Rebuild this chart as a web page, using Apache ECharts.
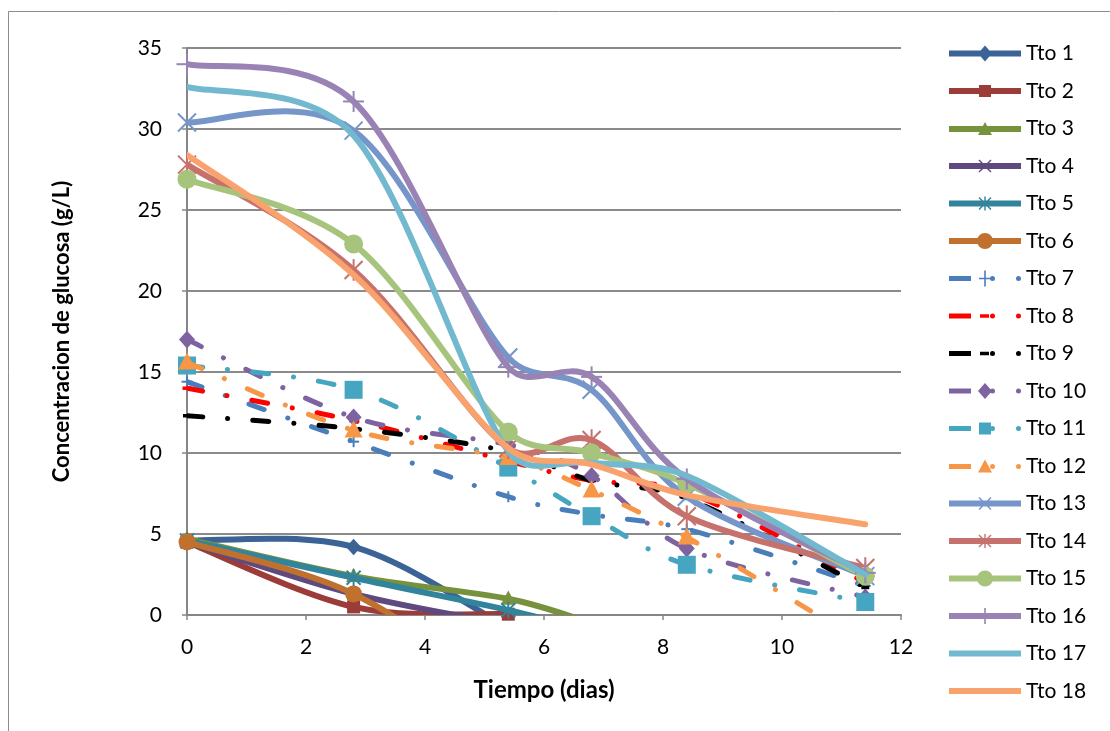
<!DOCTYPE html>
<html>
<head>
<meta charset="utf-8">
<script src="https://cdn.jsdelivr.net/npm/echarts@6/dist/echarts.min.js"></script>
<style>
html, body { margin: 0; padding: 0; background: #ffffff; }
#chart { width: 1110px; height: 731px; }
</style>
</head>
<body>
<div id="chart"></div>
<script>
// Sampling days (x values shared by every treatment)
const days = [0, 2.8, 5.4, 6.8, 8.4, 11.4];

// Axis ticks
const xTicks = [0, 2, 4, 6, 8, 10, 12];
const yTicks = [0, 5, 10, 15, 20, 25, 30, 35];

// Series names
const names = ['Tto 1', 'Tto 2', 'Tto 3', 'Tto 4', 'Tto 5', 'Tto 6',
  'Tto 7', 'Tto 8', 'Tto 9', 'Tto 10', 'Tto 11', 'Tto 12',
  'Tto 13', 'Tto 14', 'Tto 15', 'Tto 16', 'Tto 17', 'Tto 18'];

// Glucose concentration (g/L) per treatment, one value per sampling day
const tto1 = [4.6, 4.2, -0.8];
const tto2 = [4.5, 0.5, 0.05];
const tto3 = [4.7, 2.4, 1.0, -0.5];
const tto4 = [4.5, 1.3, -0.6];
const tto5 = [4.6, 2.3, 0.3, -1.0];
const tto6 = [4.5, 1.3, -5.0];
const tto7 = [14.4, 10.7, 7.3, 6.2, 5.3, 1.8];
const tto8 = [14.0, 12.0, 9.5, 8.3, 7.6, 2.0];
const tto9 = [12.3, 11.5, 10.1, 8.3, 7.2, 1.7];
const tto10 = [17.0, 12.2, 10.5, 8.6, 4.1, 1.1];
const tto11 = [15.4, 13.9, 9.1, 6.1, 3.1, 0.8];
const tto12 = [15.6, 11.4, 9.7, 7.7, 4.8, -1.8];
const tto13 = [30.4, 29.9, 15.9, 13.9, 7.3, 2.4];
const tto14 = [27.8, 21.3, 10.3, 10.8, 6.1, 2.9];
const tto15 = [26.9, 22.9, 11.3, 10.0, 8.1, 2.4];
const tto16 = [34.0, 31.7, 15.3, 14.7, 8.4, 2.6];
const tto17 = [32.6, 29.6, 10.1, 9.4, 8.6, 2.5];
const tto18 = [28.4, 21.0, 10.3, 9.3, 7.4, 5.6];

const values = [tto1, tto2, tto3, tto4, tto5, tto6, tto7, tto8, tto9,
  tto10, tto11, tto12, tto13, tto14, tto15, tto16, tto17, tto18];

// Per-series look: colour, dashed or solid, marker kind and size
const looks = [
  { color: '#3B6396', dash: false, marker: 'diamond', size: 15 },
  { color: '#9B3C38', dash: false, marker: 'square', size: 13 },
  { color: '#76923C', dash: false, marker: 'triangle', size: 15 },
  { color: '#5E4A7E', dash: false, marker: 'x', size: 12 },
  { color: '#31849B', dash: false, marker: 'star', size: 14 },
  { color: '#C0712E', dash: false, marker: 'circle', size: 17 },
  { color: '#4A7EBB', dash: true, marker: 'plus', size: 11 },
  { color: '#FF0000', dash: true, marker: 'dash', size: 9 },
  { color: '#000000', dash: true, marker: 'dash', size: 8 },
  { color: '#7F62A0', dash: true, marker: 'diamond', size: 16 },
  { color: '#46A5C0', dash: true, marker: 'square', size: 18 },
  { color: '#F79646', dash: true, marker: 'triangle', size: 18 },
  { color: '#7696C9', dash: false, marker: 'x', size: 18 },
  { color: '#C7716D', dash: false, marker: 'star', size: 18 },
  { color: '#A7C47C', dash: false, marker: 'circle', size: 19 },
  { color: '#9983B5', dash: false, marker: 'plus', size: 21 },
  { color: '#72B9D0', dash: false, marker: 'none', size: 0 },
  { color: '#F8A36E', dash: false, marker: 'none', size: 0 }
];

const FONT = 'Lato, "Open Sans", sans-serif';
const SOLID_W = 6;
const DASH_W = 5;
const DASH_PATTERN = [16, 25, 0.1, 25];
const TENSION = 1 / 6;     // control-point reach along the neighbour chord
const MAX_REACH = 0.4;     // reach limited to this share of the segment length

function f(n) { return n.toFixed(2); }

// Control-point offset for point b (neighbours a, c), limited by segment length
function reach(a, c, segLen) {
  let vx = (c[0] - a[0]) * TENSION;
  let vy = (c[1] - a[1]) * TENSION;
  const len = Math.sqrt(vx * vx + vy * vy);
  const lim = segLen * MAX_REACH;
  if (len > lim && len > 0) { vx *= lim / len; vy *= lim / len; }
  return [vx, vy];
}

// Smooth cubic curve through the pixel points
function curvePath(pts) {
  let d = 'M' + f(pts[0][0]) + ',' + f(pts[0][1]);
  for (let i = 0; i < pts.length - 1; i++) {
    const p0 = pts[i - 1] || pts[i];
    const p1 = pts[i];
    const p2 = pts[i + 1];
    const p3 = pts[i + 2] || pts[i + 1];
    const seg = Math.hypot(p2[0] - p1[0], p2[1] - p1[1]);
    const r1 = reach(p0, p2, seg);
    const r2 = reach(p1, p3, seg);
    d += 'C' + f(p1[0] + r1[0]) + ',' + f(p1[1] + r1[1]) + ',' +
      f(p2[0] - r2[0]) + ',' + f(p2[1] - r2[1]) + ',' + f(p2[0]) + ',' + f(p2[1]);
  }
  return d;
}

// Marker shapes drawn at a pixel position
function markerEls(kind, cx, cy, s, color) {
  const thin = { stroke: color, lineWidth: 2, fill: null };
  const h = s / 2;
  switch (kind) {
    case 'diamond':
      return [{ type: 'polygon', shape: { points: [[cx, cy - h * 1.1], [cx + h, cy], [cx, cy + h * 1.1], [cx - h, cy]] }, style: { fill: color } }];
    case 'square':
      return [{ type: 'rect', shape: { x: cx - h, y: cy - h, width: s, height: s }, style: { fill: color } }];
    case 'triangle':
      return [{ type: 'polygon', shape: { points: [[cx, cy - h * 1.1], [cx + h, cy + h * 0.8], [cx - h, cy + h * 0.8]] }, style: { fill: color } }];
    case 'circle':
      return [{ type: 'circle', shape: { cx: cx, cy: cy, r: h }, style: { fill: color } }];
    case 'x':
      return [
        { type: 'line', shape: { x1: cx - h, y1: cy - h, x2: cx + h, y2: cy + h }, style: thin },
        { type: 'line', shape: { x1: cx - h, y1: cy + h, x2: cx + h, y2: cy - h }, style: thin }
      ];
    case 'star':
      return [
        { type: 'line', shape: { x1: cx - h, y1: cy - h, x2: cx + h, y2: cy + h }, style: thin },
        { type: 'line', shape: { x1: cx - h, y1: cy + h, x2: cx + h, y2: cy - h }, style: thin },
        { type: 'line', shape: { x1: cx, y1: cy - h * 1.2, x2: cx, y2: cy + h * 1.2 }, style: thin }
      ];
    case 'plus':
      return [
        { type: 'line', shape: { x1: cx - h, y1: cy, x2: cx + h, y2: cy }, style: thin },
        { type: 'line', shape: { x1: cx, y1: cy - h, x2: cx, y2: cy + h }, style: thin }
      ];
    case 'dash':
      return [{ type: 'rect', shape: { x: cx - h, y: cy - 1.75, width: s, height: 3.5 }, style: { fill: color } }];
    default:
      return [];
  }
}

// Legend icons: a 72 x 20 sample of the line with its marker in the middle
function iconMarker(kind) {
  switch (kind) {
    case 'diamond': return 'M36,2L43,10L36,18L29,10Z';
    case 'square': return 'M30,4L42,4L42,16L30,16Z';
    case 'triangle': return 'M36,3L43,16L29,16Z';
    case 'circle': return 'M44,10A8,8 0 1,1 28,10A8,8 0 1,1 44,10Z';
    case 'x': return 'M29.5,4.5L30.5,3.5L42.5,15.5L41.5,16.5Z M41.5,3.5L42.5,4.5L30.5,16.5L29.5,15.5Z';
    case 'star': return 'M29.5,4.5L30.5,3.5L42.5,15.5L41.5,16.5Z M41.5,3.5L42.5,4.5L30.5,16.5L29.5,15.5Z M35.3,3L36.7,3L36.7,17L35.3,17Z';
    case 'plus': return 'M35.2,2L36.8,2L36.8,18L35.2,18Z M30,9.2L42,9.2L42,10.8L30,10.8Z';
    case 'dash': return 'M31,8.2L40,8.2L40,11.8L31,11.8Z';
    default: return '';
  }
}
function legendIcon(look) {
  let d;
  if (look.dash) {
    d = 'M0,7.5L22,7.5L22,12.5L0,12.5Z ' +
      'M46,10A2.5,2.5 0 1,1 41,10A2.5,2.5 0 1,1 46,10Z ' +
      'M72,10A2.5,2.5 0 1,1 67,10A2.5,2.5 0 1,1 72,10Z ';
  } else {
    d = 'M0,7L72,7L72,13L0,13Z ';
  }
  return 'path://' + d + iconMarker(look.marker);
}

const series = [];
values.forEach(function (vals, i) {
  const look = looks[i];
  const pts = vals.map(function (v, k) { return [days[k], v]; });
  // The smooth line, clipped to the plot area
  series.push({
    name: names[i],
    type: 'custom',
    clip: true,
    data: pts,
    encode: { x: 0, y: 1 },
    itemStyle: { color: look.color },
    silent: true,
    animation: false,
    renderItem: function (params, api) {
      if (params.dataIndex !== 0) return null;
      const px = pts.map(function (p) { return api.coord(p); });
      return {
        type: 'path',
        shape: { pathData: curvePath(px) },
        style: look.dash
          ? { fill: 'none', stroke: look.color, lineWidth: DASH_W, lineDash: DASH_PATTERN, lineCap: 'round', lineJoin: 'round' }
          : { fill: 'none', stroke: look.color, lineWidth: SOLID_W, lineCap: 'round', lineJoin: 'round' }
      };
    }
  });
  // The markers at each sampled value inside the axis range
  if (look.marker !== 'none') {
    series.push({
      name: names[i],
      type: 'custom',
      clip: false,
      data: pts,
      encode: { x: 0, y: 1 },
      itemStyle: { color: look.color },
      silent: true,
      animation: false,
      renderItem: function (params, api) {
        const x = api.value(0);
        const y = api.value(1);
        if (y < yTicks[0] || y > yTicks[yTicks.length - 1]) return null;
        const c = api.coord([x, y]);
        return { type: 'group', children: markerEls(look.marker, c[0], c[1], look.size, look.color) };
      }
    });
  }
});

const chart = echarts.init(document.getElementById('chart'), null, { renderer: 'canvas' });
chart.setOption({
  animation: false,
  backgroundColor: '#ffffff',
  graphic: [{
    type: 'rect',
    z: -10,
    silent: true,
    shape: { x: 8.5, y: 11.5, width: 1200, height: 800 },
    style: { fill: 'none', stroke: '#8c8c8c', lineWidth: 1 }
  }],
  grid: { left: 187, top: 48, width: 714, height: 567 },
  legend: {
    orient: 'vertical',
    left: 944,
    top: 38,
    itemWidth: 72,
    itemHeight: 20,
    itemGap: 16.5,
    symbolKeepAspect: true,
    data: names.map(function (n, i) { return { name: n, icon: legendIcon(looks[i]) }; }),
    textStyle: { fontFamily: FONT, fontSize: 21, color: '#000', lineHeight: 20 }
  },
  xAxis: {
    type: 'value',
    min: xTicks[0],
    max: xTicks[xTicks.length - 1],
    interval: xTicks[1] - xTicks[0],
    name: 'Tiempo (dias)',
    nameLocation: 'middle',
    nameGap: 63,
    nameTextStyle: { fontFamily: FONT, fontSize: 24, fontWeight: 'bold', color: '#000' },
    axisLine: { show: true, onZero: false, lineStyle: { color: '#868686', width: 2 } },
    axisTick: { show: true, length: 5, lineStyle: { color: '#868686', width: 1.5 } },
    axisLabel: { fontFamily: FONT, fontSize: 21, color: '#000', margin: 22 },
    splitLine: { show: false }
  },
  yAxis: {
    type: 'value',
    min: yTicks[0],
    max: yTicks[yTicks.length - 1],
    interval: yTicks[1] - yTicks[0],
    name: 'Concentracion de glucosa (g/L)',
    nameLocation: 'middle',
    nameRotate: 90,
    nameGap: 114,
    nameTextStyle: { fontFamily: FONT, fontSize: 22, fontWeight: 'bold', color: '#000' },
    axisLine: { show: true, lineStyle: { color: '#868686', width: 2 } },
    axisTick: { show: true, length: 5, lineStyle: { color: '#868686', width: 1.5 } },
    axisLabel: { fontFamily: FONT, fontSize: 21, color: '#000', margin: 25 },
    splitLine: { show: true, lineStyle: { color: '#8a8a8a', width: 2 } }
  },
  series: series
});
</script>
</body>
</html>
